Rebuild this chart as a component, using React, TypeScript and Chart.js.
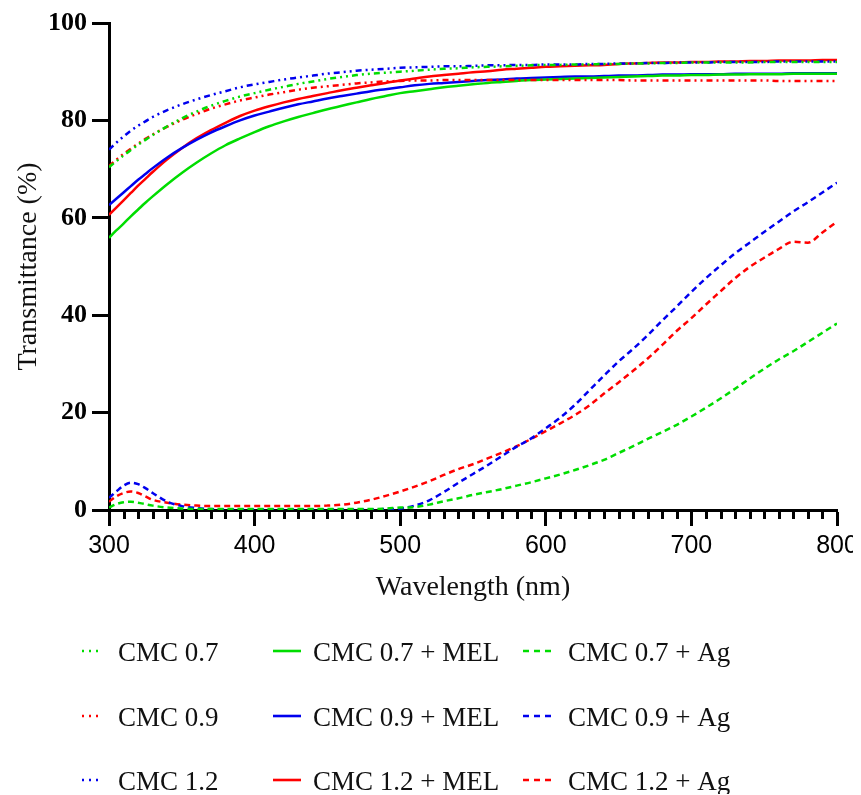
import { useEffect, useRef } from "react";
import { Chart, registerables } from "chart.js";

Chart.register(...registerables);

// Wavelength (nm)
const WAVELENGTHS = [
  300, 305, 310, 315, 320, 325, 330,
  340, 350, 360, 370, 380, 390, 400,
  410, 420, 430, 440, 450, 460, 470, 480, 490, 500,
  510, 520, 530, 540, 550, 560, 570, 580, 590, 600,
  610, 620, 630, 640, 650, 660, 670, 680, 690, 700,
  710, 720, 730, 740, 750, 760, 770, 780, 790, 800,
];

// Transmittance (%)
const CMC_07 = [
  70.4, 71.6, 72.8, 73.9, 75.0, 76.0, 77.0,
  78.8, 80.4, 81.8, 83.0, 84.0, 84.9, 85.6,
  86.3, 86.9, 87.5, 88.0, 88.5, 88.9, 89.3, 89.6, 89.8, 90.0,
  90.2, 90.4, 90.6, 90.7, 90.9, 91.0, 91.1, 91.2, 91.3, 91.4,
  91.4, 91.5, 91.5, 91.6, 91.6, 91.7, 91.7, 91.8, 91.8, 91.9,
  91.9, 91.9, 91.9, 91.9, 92.0, 92.0, 92.0, 92.0, 92.0, 92.0,
];
const CMC_09 = [
  70.6, 71.9, 73.1, 74.2, 75.2, 76.2, 77.1,
  78.7, 80.1, 81.3, 82.4, 83.3, 84.1, 84.7,
  85.3, 85.8, 86.3, 86.7, 87.0, 87.3, 87.6, 87.8, 88.0, 88.1,
  88.2, 88.2, 88.3, 88.3, 88.3, 88.3, 88.3, 88.3, 88.3, 88.3,
  88.3, 88.3, 88.3, 88.3, 88.3, 88.2, 88.2, 88.2, 88.2, 88.2,
  88.2, 88.2, 88.2, 88.2, 88.2, 88.1, 88.1, 88.1, 88.1, 88.1,
];
const CMC_12 = [
  74.0, 75.4, 76.7, 77.9, 78.9, 79.8, 80.7,
  82.1, 83.3, 84.3, 85.2, 86.0, 86.8, 87.4,
  87.9, 88.4, 88.8, 89.2, 89.6, 89.9, 90.2, 90.4, 90.6, 90.8,
  90.9, 91.0, 91.1, 91.1, 91.2, 91.3, 91.3, 91.4, 91.4, 91.5,
  91.5, 91.5, 91.6, 91.6, 91.7, 91.7, 91.8, 91.8, 91.9, 91.9,
  91.9, 92.0, 92.0, 92.0, 92.0, 92.1, 92.1, 92.1, 92.1, 92.1,
];
const CMC_07_MEL = [
  55.9, 57.4, 58.8, 60.3, 61.7, 63.1, 64.4,
  66.9, 69.2, 71.3, 73.2, 74.9, 76.3, 77.6,
  78.8, 79.8, 80.7, 81.5, 82.3, 83.0, 83.7, 84.4, 85.0, 85.6,
  86.0, 86.4, 86.8, 87.1, 87.4, 87.7, 87.9, 88.1, 88.3, 88.4,
  88.5, 88.6, 88.7, 88.8, 88.9, 89.0, 89.1, 89.2, 89.2, 89.3,
  89.3, 89.4, 89.4, 89.5, 89.5, 89.5, 89.6, 89.6, 89.6, 89.6,
];
const CMC_09_MEL = [
  62.6, 63.9, 65.2, 66.5, 67.8, 69.0, 70.2,
  72.4, 74.3, 76.0, 77.5, 78.8, 80.0, 81.0,
  81.8, 82.6, 83.3, 83.9, 84.5, 85.0, 85.5, 86.0, 86.4, 86.8,
  87.2, 87.5, 87.7, 87.9, 88.1, 88.3, 88.4, 88.6, 88.7, 88.8,
  88.9, 89.0, 89.0, 89.1, 89.2, 89.2, 89.3, 89.4, 89.4, 89.5,
  89.5, 89.5, 89.6, 89.6, 89.6, 89.6, 89.7, 89.7, 89.7, 89.7,
];
const CMC_12_MEL = [
  60.6, 62.1, 63.6, 65.1, 66.6, 68.0, 69.4,
  72.0, 74.3, 76.3, 78.0, 79.5, 80.9, 82.0,
  82.9, 83.7, 84.4, 85.0, 85.6, 86.2, 86.7, 87.2, 87.7, 88.2,
  88.6, 89.0, 89.3, 89.6, 89.9, 90.1, 90.4, 90.6, 90.8, 91.0,
  91.1, 91.2, 91.3, 91.4, 91.6, 91.7, 91.8, 91.9, 91.9, 92.0,
  92.0, 92.1, 92.1, 92.2, 92.2, 92.3, 92.3, 92.3, 92.4, 92.4,
];
const CMC_07_AG = [
  0.5, 1.2, 1.6, 1.7, 1.5, 1.2, 0.9,
  0.5, 0.3, 0.2, 0.2, 0.2, 0.2, 0.2,
  0.2, 0.2, 0.2, 0.2, 0.2, 0.2, 0.2, 0.2, 0.3, 0.5,
  0.6, 1.1, 1.8, 2.4, 3.1, 3.7, 4.3, 5.0, 5.7, 6.5,
  7.3, 8.2, 9.2, 10.3, 11.7, 13.1, 14.6, 16.0, 17.5, 19.2,
  21.0, 22.9, 24.9, 27.0, 29.0, 30.9, 32.6, 34.5, 36.4, 38.3,
];
const CMC_09_AG = [
  2.5, 3.8, 5.0, 5.6, 5.3, 4.5, 3.5,
  1.7, 0.8, 0.4, 0.2, 0.1, 0.1, 0.1,
  0.1, 0.1, 0.1, 0.1, 0.1, 0.1, 0.1, 0.1, 0.2, 0.3,
  0.9, 2.0, 3.7, 5.6, 7.4, 9.2, 11.1, 13.0, 14.7, 16.8,
  19.0, 21.6, 24.6, 27.6, 30.5, 33.1, 35.9, 38.9, 41.8, 44.8,
  47.6, 50.2, 52.7, 54.9, 57.1, 59.2, 61.3, 63.2, 65.2, 67.2,
];
const CMC_12_AG = [
  1.7, 2.8, 3.5, 3.8, 3.5, 2.8, 2.1,
  1.5, 1.1, 0.9, 0.8, 0.8, 0.8, 0.8,
  0.8, 0.8, 0.8, 0.8, 0.9, 1.1, 1.5, 2.1, 2.9, 3.8,
  4.8, 5.9, 7.2, 8.4, 9.4, 10.6, 11.8, 13.1, 14.6, 16.2,
  17.8, 19.5, 21.5, 23.9, 26.2, 28.6, 31.1, 33.9, 36.8, 39.4,
  42.2, 44.9, 47.6, 49.9, 51.8, 53.6, 55.1, 54.9, 57.0, 59.2,
];

const SERIES_LABELS = [
  "CMC 0.7", "CMC 0.9", "CMC 1.2",
  "CMC 0.7 + MEL", "CMC 0.9 + MEL", "CMC 1.2 + MEL",
  "CMC 0.7 + Ag", "CMC 0.9 + Ag", "CMC 1.2 + Ag",
];
const SERIES_VALUES = [
  CMC_07, CMC_09, CMC_12,
  CMC_07_MEL, CMC_09_MEL, CMC_12_MEL,
  CMC_07_AG, CMC_09_AG, CMC_12_AG,
];

const X_TICK_STEP = 100;
const X_MINOR_STEP = 10;
const Y_TICK_STEP = 20;

const GREEN = "#00dd00";
const RED = "#ff0000";
const BLUE = "#0000ee";
const SERIES_COLORS = [GREEN, RED, BLUE, GREEN, BLUE, RED, GREEN, BLUE, RED];
const DASH_DOT_DOT = [6, 4, 2, 4, 2, 4];
const DASHED = [6, 4];
const SERIES_DASHES = [
  DASH_DOT_DOT, DASH_DOT_DOT, DASH_DOT_DOT,
  [], [], [],
  DASHED, DASHED, DASHED,
];
const LEGEND_DASHES = [
  [2, 5], [2, 5], [2, 5],
  [], [], [],
  [6, 5], [6, 5], [6, 5],
];

// legend layout: columns of dataset indices
const LEGEND_GRID = [
  [0, 1, 2],
  [3, 4, 5],
  [6, 7, 8],
];

const minorTickPlugin = {
  id: "minorTicks",
  afterDraw(chart: any) {
    const scale = chart.scales.x;
    const ctx = chart.ctx;
    const y0 = chart.chartArea.bottom;
    ctx.save();
    ctx.strokeStyle = "#000";
    ctx.lineWidth = 3;
    for (let v = scale.min + X_MINOR_STEP; v < scale.max; v += X_MINOR_STEP) {
      if (v % X_TICK_STEP === 0) continue;
      const px = Math.round(scale.getPixelForValue(v)) + 0.5;
      ctx.beginPath();
      ctx.moveTo(px, y0);
      ctx.lineTo(px, y0 + 9);
      ctx.stroke();
    }
    ctx.restore();
  },
};

const gridLegendPlugin = {
  id: "gridLegend",
  afterDraw(chart: any) {
    const ctx = chart.ctx;
    const cols = [
      { sx: 74, ex: 94, tx: 110 },
      { sx: 265, ex: 293, tx: 305 },
      { sx: 515, ex: 547, tx: 560 },
    ];
    const rows = [
      { ly: 643, ty: 653 },
      { ly: 708, ty: 718 },
      { ly: 772, ty: 782 },
    ];
    LEGEND_GRID.forEach((col, c) =>
      col.forEach((dsIndex, r) => {
        const ds = chart.data.datasets[dsIndex];
        ctx.save();
        ctx.strokeStyle = ds.borderColor;
        ctx.lineWidth = 2.6;
        ctx.setLineDash(LEGEND_DASHES[dsIndex]);
        ctx.beginPath();
        ctx.moveTo(cols[c].sx, rows[r].ly);
        ctx.lineTo(cols[c].ex, rows[r].ly);
        ctx.stroke();
        ctx.setLineDash([]);
        ctx.font = '27px "Liberation Serif"';
        ctx.fillStyle = "#111";
        ctx.textBaseline = "alphabetic";
        ctx.textAlign = "left";
        ctx.fillText(ds.label, cols[c].tx, rows[r].ty);
        ctx.restore();
      })
    );
  },
};

export default function App() {
  const canvasRef = useRef<HTMLCanvasElement | null>(null);

  useEffect(() => {
    if (!canvasRef.current) return;
    const datasets = SERIES_LABELS.map((label, i) => ({
      label,
      data: WAVELENGTHS.map((x, j) => ({ x, y: SERIES_VALUES[i][j] })),
      borderColor: SERIES_COLORS[i],
      backgroundColor: SERIES_COLORS[i],
      borderDash: SERIES_DASHES[i],
      borderWidth: 2.5,
      pointRadius: 0,
      fill: false,
      cubicInterpolationMode: "monotone" as const,
    }));

    const chart = new Chart(canvasRef.current, {
      type: "line",
      data: { datasets },
      options: {
        animation: false,
        responsive: false,
        devicePixelRatio: 1,
        layout: { padding: { left: 0, right: 24, top: 15, bottom: 184 } },
        plugins: {
          legend: { display: false },
          tooltip: { enabled: false },
        },
        scales: {
          x: {
            type: "linear",
            min: 300,
            max: 800,
            afterFit: (s: any) => {
              s.height = 100;
              s.paddingLeft = 0;
              s.paddingRight = 0;
            },
            border: { display: true, color: "#000", width: 3 },
            grid: {
              display: true,
              drawOnChartArea: false,
              drawTicks: true,
              tickLength: 16,
              tickWidth: 3,
              tickColor: "#000",
            },
            ticks: {
              stepSize: X_TICK_STEP,
              color: "#000",
              padding: 5,
              maxRotation: 0,
              font: { family: '"Liberation Sans", Arial, sans-serif', size: 25 },
            },
            title: {
              display: true,
              text: "Wavelength (nm)",
              color: "#111",
              padding: { top: 0, bottom: 6 },
              font: { family: '"Liberation Serif", serif', size: 28 },
            },
          },
          y: {
            type: "linear",
            min: 0,
            max: 100,
            afterFit: (s: any) => {
              s.width = 101;
              s.paddingTop = 0;
              s.paddingBottom = 0;
            },
            border: { display: true, color: "#000", width: 3 },
            grid: {
              display: true,
              drawOnChartArea: false,
              drawTicks: true,
              tickLength: 17,
              tickWidth: 3,
              tickColor: "#000",
            },
            ticks: {
              stepSize: Y_TICK_STEP,
              color: "#000",
              padding: 5,
              font: { family: '"Liberation Serif", serif', size: 26, weight: "bold" },
            },
            title: {
              display: true,
              text: "Transmittance (%)",
              color: "#111",
              padding: { top: 4, bottom: 0 },
              font: { family: '"Liberation Serif", serif', size: 28 },
            },
          },
        },
      },
      plugins: [minorTickPlugin, gridLegendPlugin],
    });
    return () => chart.destroy();
  }, []);

  return (
    <div style={{ width: 853, height: 786 }}>
      <canvas ref={canvasRef} width={853} height={786} style={{ display: "block" }} />
    </div>
  );
}
